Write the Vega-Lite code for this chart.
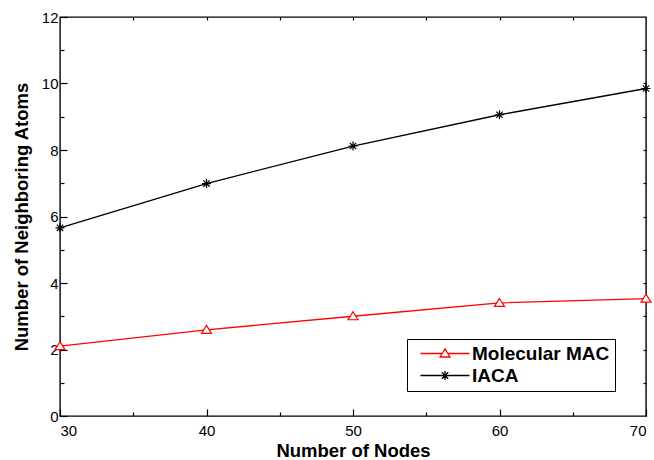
{
  "$schema": "https://vega.github.io/schema/vega-lite/v6.json",
  "width": 586,
  "height": 399,
  "autosize": {"type": "none"},
  "padding": {"left": 60, "top": 17, "right": 8, "bottom": 44},
  "background": "white",
  "config": {
    "font": "Liberation Sans",
    "view": {"stroke": "#000", "strokeWidth": 1.4},
    "axis": {"grid": false, "domain": false, "tickColor": "#000", "tickWidth": 1.2, "labelColor": "#000", "titleColor": "#000", "labelFont": "Liberation Sans", "titleFont": "Liberation Sans", "labelFontSize": 15, "titleFontSize": 18.5, "titleFontWeight": "bold"}
  },
  "data": {
    "values": [
      {"series": "Molecular MAC", "nodes": 30, "atoms": 2.1},
      {"series": "Molecular MAC", "nodes": 40, "atoms": 2.59},
      {"series": "Molecular MAC", "nodes": 50, "atoms": 3.0},
      {"series": "Molecular MAC", "nodes": 60, "atoms": 3.4},
      {"series": "Molecular MAC", "nodes": 70, "atoms": 3.53},
      {"series": "IACA", "nodes": 30, "atoms": 5.66},
      {"series": "IACA", "nodes": 40, "atoms": 6.99},
      {"series": "IACA", "nodes": 50, "atoms": 8.12},
      {"series": "IACA", "nodes": 60, "atoms": 9.06},
      {"series": "IACA", "nodes": 70, "atoms": 9.85}
    ]
  },
  "resolve": {"axis": {"x": "independent", "y": "independent"}},
  "layer": [
    {
      "transform": [{"filter": "datum.series === 'Molecular MAC'"}],
      "mark": {"type": "line", "strokeWidth": 1.3, "color": "#ff0000"},
      "encoding": {
        "x": {"field": "nodes", "type": "quantitative", "scale": {"domain": [30, 70], "nice": false, "zero": false},
          "axis": {"orient": "bottom", "values": [30, 40, 50, 60, 70], "tickSize": -7, "labelPadding": 14, "title": "Number of Nodes", "titlePadding": 3}},
        "y": {"field": "atoms", "type": "quantitative", "scale": {"domain": [0, 12], "nice": false},
          "axis": {"orient": "left", "values": [0, 2, 4, 6, 8, 10, 12], "tickSize": -7, "labelPadding": 9, "title": "Number of Neighboring Atoms", "titlePadding": 10}}
      }
    },
    {
      "transform": [{"filter": "datum.series === 'IACA'"}],
      "mark": {"type": "line", "strokeWidth": 1.3, "color": "#000000"},
      "encoding": {
        "x": {"field": "nodes", "type": "quantitative",
          "axis": {"orient": "bottom", "values": [35, 45, 55, 65], "tickSize": -4, "labels": false, "title": null}},
        "y": {"field": "atoms", "type": "quantitative",
          "axis": {"orient": "left", "values": [1, 3, 5, 7, 9, 11], "tickSize": -4, "labels": false, "title": null}}
      }
    },
    {
      "transform": [{"filter": "datum.series === 'Molecular MAC'"}],
      "mark": {"type": "point", "shape": "M0,-0.9L1,0.7L-1,0.7Z", "size": 100, "filled": true, "fill": "white", "stroke": "#ff0000", "strokeWidth": 1.2, "opacity": 1},
      "encoding": {
        "x": {"field": "nodes", "type": "quantitative",
          "axis": {"orient": "top", "values": [35, 40, 45, 50, 55, 60, 65], "tickSize": -3, "labels": false, "title": null}},
        "y": {"field": "atoms", "type": "quantitative",
          "axis": {"orient": "right", "values": [1, 2, 3, 4, 5, 6, 7, 8, 9, 10, 11], "tickSize": -3, "labels": false, "title": null}}
      }
    },
    {
      "transform": [{"filter": "datum.series === 'IACA'"}],
      "mark": {"type": "point", "shape": "M-1,0H1M0,-1V1M-0.7,-0.7L0.7,0.7M-0.7,0.7L0.7,-0.7", "size": 81, "filled": false, "stroke": "#000", "strokeWidth": 1.2, "opacity": 1},
      "encoding": {
        "x": {"field": "nodes", "type": "quantitative", "axis": null},
        "y": {"field": "atoms", "type": "quantitative", "axis": null}
      }
    },
    {
      "mark": {"type": "point", "opacity": 0, "filled": false, "strokeWidth": 1.3},
      "encoding": {
        "x": {"field": "nodes", "type": "quantitative", "axis": null},
        "y": {"field": "atoms", "type": "quantitative", "axis": null},
        "color": {"field": "series", "type": "nominal", "scale": {"domain": ["Molecular MAC", "IACA"], "range": ["#ff0000", "#000000"]},
          "legend": {"orient": "none", "legendX": 347, "legendY": 322, "title": null, "strokeColor": "#000", "fillColor": "white", "padding": 5, "symbolOpacity": 1, "symbolSize": 144, "symbolStrokeWidth": 1.3, "labelOffset": 41, "labelFont": "Liberation Sans", "labelFontSize": 19, "labelFontWeight": "bold", "labelColor": "#000", "rowPadding": 2}},
        "shape": {"field": "series", "type": "nominal", "scale": {"domain": ["Molecular MAC", "IACA"], "range": ["M-0.17,0H3.45M4.39,0H8M3.92,-0.75L4.75,0.58L3.09,0.58Z", "M-0.17,0H8M3.92,-0.75V0.75M3.39,-0.53L4.45,0.53M3.39,0.53L4.45,-0.53"]},
          "legend": {"orient": "none", "legendX": 347, "legendY": 322, "title": null, "strokeColor": "#000", "fillColor": "white", "padding": 5, "symbolOpacity": 1, "symbolSize": 144, "symbolStrokeWidth": 1.3, "labelOffset": 41, "labelFont": "Liberation Sans", "labelFontSize": 19, "labelFontWeight": "bold", "labelColor": "#000", "rowPadding": 2}}
      }
    }
  ]
}
